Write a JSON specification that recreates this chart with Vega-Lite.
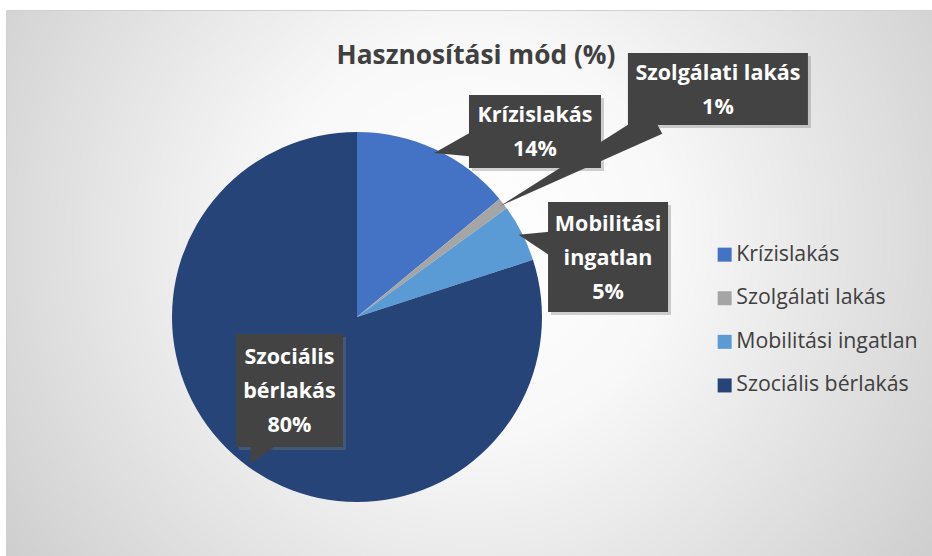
{
  "$schema": "https://vega.github.io/schema/vega-lite/v6.json",
  "width": 926,
  "height": 546,
  "autosize": {"type": "none"},
  "padding": {"left": 6, "top": 10, "right": 0, "bottom": 0},
  "background": "#ffffff",
  "view": {
    "fill": {"gradient": "radial", "x1": 0.5, "y1": 0.45, "r1": 0, "x2": 0.5, "y2": 0.45, "r2": 0.72,
      "stops": [{"offset": 0, "color": "#ffffff"}, {"offset": 0.3, "color": "#f8f8f8"}, {"offset": 1, "color": "#c2c2c2"}]},
    "stroke": "#d0d0d0"
  },
  "title": {"text": "Hasznosítási mód (%)", "font": "Open Sans", "fontSize": 26.3, "fontWeight": "bold", "color": "#404040", "anchor": "middle", "offset": -80, "dx": 7, "baseline": "alphabetic"},
  "data": {"values": [
    {"category": "Krízislakás", "value": 14},
    {"category": "Szolgálati lakás", "value": 1},
    {"category": "Mobilitási ingatlan", "value": 5},
    {"category": "Szociális bérlakás", "value": 80}
  ]},
  "transform": [
    {"window": [{"op": "row_number", "as": "idx"}]},
    {"joinaggregate": [{"op": "sum", "field": "value", "as": "total"}]},
    {"window": [{"op": "sum", "field": "value", "as": "cum"}], "sort": [{"field": "idx"}], "frame": [null, 0]},
    {"calculate": "2*PI*(datum.cum - datum.value/2)/datum.total", "as": "mid"},
    {"calculate": "0.98*sin(datum.mid)", "as": "tx"},
    {"calculate": "0.98*cos(datum.mid)", "as": "ty"},
    {"calculate": "[0.962, 1.951, 1.357, -0.365][datum.idx-1]", "as": "cx"},
    {"calculate": "[1.003, 1.232, 0.324, -0.397][datum.idx-1]", "as": "cy"},
    {"calculate": "[66, 90, 60, 53.5][datum.idx-1]", "as": "hw"},
    {"calculate": "[36.5, 36, 55, 56.5][datum.idx-1]", "as": "hh"},
    {"calculate": "datum.cx - datum.hw/185", "as": "bx1"},
    {"calculate": "datum.cx + datum.hw/185", "as": "bx2"},
    {"calculate": "datum.cy - datum.hh/185", "as": "by1"},
    {"calculate": "datum.cy + datum.hh/185", "as": "by2"},
    {"calculate": "datum.bx1 + 3/185", "as": "sx1"},
    {"calculate": "datum.bx2 + 3/185", "as": "sx2"},
    {"calculate": "datum.by1 - 3/185", "as": "sy1"},
    {"calculate": "datum.by2 - 3/185", "as": "sy2"},
    {"calculate": "(datum.tx - datum.cx)*185", "as": "px"},
    {"calculate": "(datum.cy - datum.ty)*185", "as": "py"},
    {"calculate": "sqrt(datum.px*datum.px + datum.py*datum.py)", "as": "L"},
    {"calculate": "min(datum.hw/abs(datum.px), datum.hh/abs(datum.py))*datum.L - 6", "as": "db"},
    {"calculate": "datum.px/datum.L", "as": "ux"},
    {"calculate": "datum.py/datum.L", "as": "uy"},
    {"calculate": "'M' + (datum.db*datum.ux - 13*datum.uy) + ',' + (datum.db*datum.uy + 13*datum.ux) + 'L' + datum.px + ',' + datum.py + 'L' + (datum.db*datum.ux + 13*datum.uy) + ',' + (datum.db*datum.uy - 13*datum.ux) + 'Z'", "as": "tailPath"},
    {"calculate": "(datum.category == 'Szolgálati lakás' ? datum.category : replace(datum.category, ' ', '\\n')) + '\\n' + datum.value + '%'", "as": "lbl"},
    {"calculate": "datum.cy + ((length(split(datum.lbl, '\\n')) - 1)*17 - 2)/185", "as": "textY"}
  ],
  "encoding": {
    "x": {"type": "quantitative", "scale": {"domain": [-1.897297, 3.108108], "nice": false, "zero": false}, "axis": null},
    "y": {"type": "quantitative", "scale": {"domain": [-1.291892, 1.659459], "nice": false, "zero": false}, "axis": null}
  },
  "layer": [
    {
      "mark": {"type": "arc", "outerRadius": 185},
      "encoding": {
        "x": {"datum": 0, "type": "quantitative", "axis": null},
        "y": {"datum": 0, "type": "quantitative", "axis": null},
        "theta": {"field": "value", "type": "quantitative", "stack": true},
        "order": {"field": "idx", "type": "quantitative"},
        "color": {
          "field": "category", "type": "nominal",
          "scale": {"domain": ["Krízislakás", "Szolgálati lakás", "Mobilitási ingatlan", "Szociális bérlakás"], "range": ["#4472C4", "#A5A5A5", "#5B9BD5", "#264478"]},
          "legend": {"title": null, "orient": "none", "legendX": 708, "legendY": 234, "symbolType": "square", "symbolSize": 196, "symbolStrokeWidth": 0, "labelFont": "Open Sans", "labelFontSize": 21.3, "labelColor": "#404040", "labelOffset": 1, "rowPadding": 21.6, "padding": 0, "labelLimit": 300}
        }
      }
    },
    {
      "mark": {"type": "rect", "color": "#7a7a7a", "opacity": 0.35},
      "encoding": {
        "x": {"field": "sx1", "type": "quantitative"},
        "x2": {"field": "sx2"},
        "y": {"field": "sy1", "type": "quantitative"},
        "y2": {"field": "sy2"}
      }
    },
    {
      "mark": {"type": "rect", "color": "#434343"},
      "encoding": {
        "x": {"field": "bx1", "type": "quantitative"},
        "x2": {"field": "bx2"},
        "y": {"field": "by1", "type": "quantitative"},
        "y2": {"field": "by2"}
      }
    },
    {
      "mark": {"type": "point", "filled": true, "opacity": 1, "color": "#434343", "strokeWidth": 0},
      "encoding": {
        "x": {"field": "cx", "type": "quantitative"},
        "y": {"field": "cy", "type": "quantitative"},
        "shape": {"field": "tailPath", "type": "nominal", "scale": null, "legend": null},
        "size": {"value": 4}
      }
    },
    {
      "mark": {"type": "text", "font": "Open Sans", "fontSize": 21.5, "fontWeight": "bold", "color": "#ffffff", "lineBreak": "\n", "lineHeight": 34, "align": "center", "baseline": "middle"},
      "encoding": {
        "x": {"field": "cx", "type": "quantitative"},
        "y": {"field": "textY", "type": "quantitative"},
        "text": {"field": "lbl", "type": "nominal"}
      }
    }
  ]
}
